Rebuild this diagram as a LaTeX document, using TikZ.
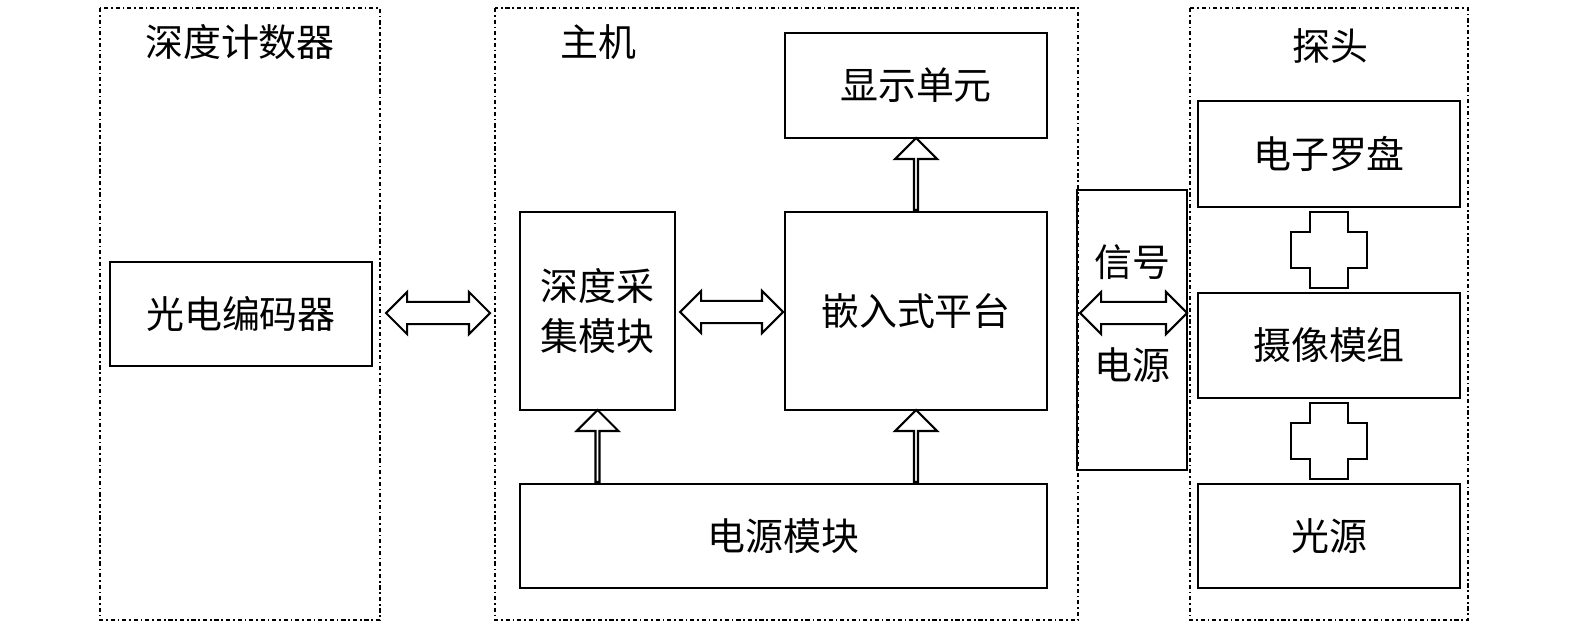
\documentclass[tikz,border=0pt]{standalone}
\usepackage{fontspec}
\setmainfont{Noto Sans CJK SC}
\usetikzlibrary{positioning,calc,shapes.arrows}
\tikzset{blk/.style={draw, line width=1.5pt, inner sep=0pt, align=center, font=\fontsize{27}{36}\selectfont}}
\tikzset{grp/.style={draw, line width=1.2pt, dash dot}}
\tikzset{ttl/.style={font=\fontsize{27}{36}\selectfont}}
\tikzset{darr/.style={double arrow, draw, line width=1.5pt, inner xsep=0pt, inner ysep=0.25cm, minimum width=1cm, text height=0pt, text depth=0pt}}
\tikzset{sarr/.style={single arrow, draw, line width=1.5pt, inner xsep=0pt, inner ysep=0.25cm, minimum width=1.05cm, text height=0pt, text depth=0pt, shape border rotate=90}}
\begin{document}
\begin{tikzpicture}[x=0.025cm, y=-0.025cm]
\useasboundingbox (0,0) rectangle (1575,630);
% groups
\draw[grp] (100,8) rectangle (380,620);
\draw[grp] (495,8) rectangle (1078,620);
\draw[grp] (1190,8) rectangle (1468,620);
\node[ttl] (tcnt) at (240,42) {深度计数器};
\node[ttl] (thost) at (598,42) {主机};
\node[ttl] (tprobe) at (1330,46) {探头};
% blocks
\node[blk, minimum width=262*0.025cm, minimum height=104*0.025cm] (enc) at (241,314) {光电编码器};
\node[blk, minimum width=155*0.025cm, minimum height=198*0.025cm] (acq) at (597.5,311) {深度采\\集模块};
\node[blk, minimum width=262*0.025cm, minimum height=198*0.025cm] (emb) at (916,311) {嵌入式平台};
\node[blk, minimum width=262*0.025cm, minimum height=105*0.025cm] (disp) at (916,85.5) {显示单元};
\node[blk, minimum width=527*0.025cm, minimum height=104*0.025cm] (pwr) at (783.5,536) {电源模块};
\node[blk, minimum width=110*0.025cm, minimum height=280*0.025cm] (sig) at (1132,330) {};
\node[ttl] (tsig) at (1132,262) {信号};
\node[ttl] (tsrc) at (1132,365) {电源};
\node[blk, minimum width=262*0.025cm, minimum height=106*0.025cm] (comp) at (1329,154) {电子罗盘};
\node[blk, minimum width=262*0.025cm, minimum height=105*0.025cm] (cam) at (1329,345.5) {摄像模组};
\node[blk, minimum width=262*0.025cm, minimum height=104*0.025cm] (lit) at (1329,536) {光源};
% hollow arrows
\node[darr, minimum height=104*0.025cm] (a1) at (438,313) {};
\node[darr, minimum height=103*0.025cm] (a2) at (731.5,312) {};
\node[darr, minimum height=107*0.025cm] (a3) at (1133.5,313) {};
\node[sarr, minimum height=72*0.025cm] (u1) at ($(acq.south)!0.5!(acq.south|-pwr.north)$) {};
\node[sarr, minimum height=72*0.025cm] (u2) at ($(emb.south)!0.5!(pwr.north-|emb.south)$) {};
\node[sarr, minimum height=72*0.025cm] (u3) at ($(disp.south)!0.5!(emb.north)$) {};
% crosses
\foreach \a/\b in {comp/cam, cam/lit}{
  \coordinate (m) at ($(\a.south)!0.5!(\b.north)$);
  \draw[line width=1.5pt] (m) ++(-19,-38) -- ++(38,0) -- ++(0,20) -- ++(19,0) -- ++(0,36)
    -- ++(-19,0) -- ++(0,20) -- ++(-38,0) -- ++(0,-20) -- ++(-19,0) -- ++(0,-36) -- ++(19,0) -- cycle;
}
\end{tikzpicture}
\end{document}
